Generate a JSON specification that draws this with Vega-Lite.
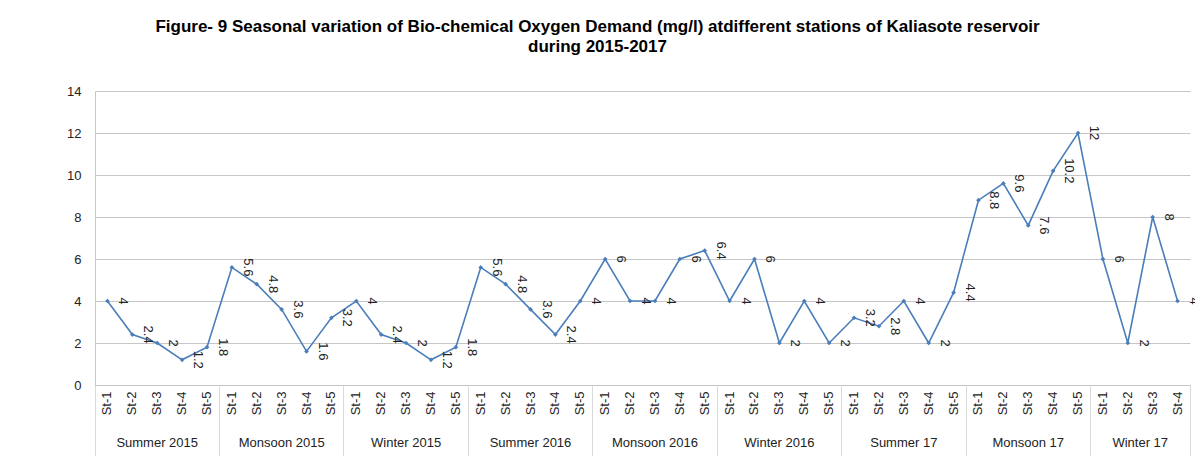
{
  "$schema": "https://vega.github.io/schema/vega-lite/v6.json",
  "width": 1095,
  "height": 294,
  "autosize": "none",
  "padding": {"left": 95, "top": 91, "right": 5, "bottom": 71},
  "background": "white",
  "title": {
    "text": ["Figure- 9 Seasonal variation of Bio-chemical Oxygen Demand  (mg/l)  atdifferent stations of Kaliasote reservoir", "during 2015-2017"],
    "font": "Liberation Sans",
    "fontSize": 17,
    "fontWeight": "bold",
    "color": "#000000",
    "anchor": "middle",
    "frame": "group",
    "dx": -45,
    "offset": 29,
    "lineHeight": 20
  },
  "config": {
    "view": {"stroke": null},
    "font": "Liberation Sans"
  },
  "data": {
    "values": [
      {"season": "Summer 2015", "station": "St-1", "key": "Summer 2015|St-1", "bod": 4},
      {"season": "Summer 2015", "station": "St-2", "key": "Summer 2015|St-2", "bod": 2.4},
      {"season": "Summer 2015", "station": "St-3", "key": "Summer 2015|St-3", "bod": 2},
      {"season": "Summer 2015", "station": "St-4", "key": "Summer 2015|St-4", "bod": 1.2},
      {"season": "Summer 2015", "station": "St-5", "key": "Summer 2015|St-5", "bod": 1.8},
      {"season": "Monsoon 2015", "station": "St-1", "key": "Monsoon 2015|St-1", "bod": 5.6},
      {"season": "Monsoon 2015", "station": "St-2", "key": "Monsoon 2015|St-2", "bod": 4.8},
      {"season": "Monsoon 2015", "station": "St-3", "key": "Monsoon 2015|St-3", "bod": 3.6},
      {"season": "Monsoon 2015", "station": "St-4", "key": "Monsoon 2015|St-4", "bod": 1.6},
      {"season": "Monsoon 2015", "station": "St-5", "key": "Monsoon 2015|St-5", "bod": 3.2},
      {"season": "Winter 2015", "station": "St-1", "key": "Winter 2015|St-1", "bod": 4},
      {"season": "Winter 2015", "station": "St-2", "key": "Winter 2015|St-2", "bod": 2.4},
      {"season": "Winter 2015", "station": "St-3", "key": "Winter 2015|St-3", "bod": 2},
      {"season": "Winter 2015", "station": "St-4", "key": "Winter 2015|St-4", "bod": 1.2},
      {"season": "Winter 2015", "station": "St-5", "key": "Winter 2015|St-5", "bod": 1.8},
      {"season": "Summer 2016", "station": "St-1", "key": "Summer 2016|St-1", "bod": 5.6},
      {"season": "Summer 2016", "station": "St-2", "key": "Summer 2016|St-2", "bod": 4.8},
      {"season": "Summer 2016", "station": "St-3", "key": "Summer 2016|St-3", "bod": 3.6},
      {"season": "Summer 2016", "station": "St-4", "key": "Summer 2016|St-4", "bod": 2.4},
      {"season": "Summer 2016", "station": "St-5", "key": "Summer 2016|St-5", "bod": 4},
      {"season": "Monsoon 2016", "station": "St-1", "key": "Monsoon 2016|St-1", "bod": 6},
      {"season": "Monsoon 2016", "station": "St-2", "key": "Monsoon 2016|St-2", "bod": 4},
      {"season": "Monsoon 2016", "station": "St-3", "key": "Monsoon 2016|St-3", "bod": 4},
      {"season": "Monsoon 2016", "station": "St-4", "key": "Monsoon 2016|St-4", "bod": 6},
      {"season": "Monsoon 2016", "station": "St-5", "key": "Monsoon 2016|St-5", "bod": 6.4},
      {"season": "Winter 2016", "station": "St-1", "key": "Winter 2016|St-1", "bod": 4},
      {"season": "Winter 2016", "station": "St-2", "key": "Winter 2016|St-2", "bod": 6},
      {"season": "Winter 2016", "station": "St-3", "key": "Winter 2016|St-3", "bod": 2},
      {"season": "Winter 2016", "station": "St-4", "key": "Winter 2016|St-4", "bod": 4},
      {"season": "Winter 2016", "station": "St-5", "key": "Winter 2016|St-5", "bod": 2},
      {"season": "Summer 17", "station": "St-1", "key": "Summer 17|St-1", "bod": 3.2},
      {"season": "Summer 17", "station": "St-2", "key": "Summer 17|St-2", "bod": 2.8},
      {"season": "Summer 17", "station": "St-3", "key": "Summer 17|St-3", "bod": 4},
      {"season": "Summer 17", "station": "St-4", "key": "Summer 17|St-4", "bod": 2},
      {"season": "Summer 17", "station": "St-5", "key": "Summer 17|St-5", "bod": 4.4},
      {"season": "Monsoon 17", "station": "St-1", "key": "Monsoon 17|St-1", "bod": 8.8},
      {"season": "Monsoon 17", "station": "St-2", "key": "Monsoon 17|St-2", "bod": 9.6},
      {"season": "Monsoon 17", "station": "St-3", "key": "Monsoon 17|St-3", "bod": 7.6},
      {"season": "Monsoon 17", "station": "St-4", "key": "Monsoon 17|St-4", "bod": 10.2},
      {"season": "Monsoon 17", "station": "St-5", "key": "Monsoon 17|St-5", "bod": 12},
      {"season": "Winter 17", "station": "St-1", "key": "Winter 17|St-1", "bod": 6},
      {"season": "Winter 17", "station": "St-2", "key": "Winter 17|St-2", "bod": 2},
      {"season": "Winter 17", "station": "St-3", "key": "Winter 17|St-3", "bod": 8},
      {"season": "Winter 17", "station": "St-4", "key": "Winter 17|St-4", "bod": 4}
    ]
  },
  "encoding": {
    "x": {
      "field": "key",
      "type": "ordinal",
      "sort": null,
      "scale": {"type": "band", "paddingInner": 0, "paddingOuter": 0}
    },
    "y": {
      "field": "bod",
      "type": "quantitative",
      "scale": {"domain": [0, 14], "nice": false},
      "axis": {
        "title": null,
        "values": [0, 2, 4, 6, 8, 10, 12, 14],
        "grid": true,
        "gridColor": "#c6c6c6",
        "gridWidth": 1,
        "ticks": false,
        "domainColor": "#c6c6c6",
        "labelFont": "Liberation Sans",
        "labelFontSize": 13,
        "labelColor": "#222222",
        "labelPadding": 14
      }
    }
  },
  "resolve": {"axis": {"x": "independent"}},
  "layer": [
    {
      "mark": {"type": "line", "color": "#4a7ebb", "strokeWidth": 1.6},
      "encoding": {
        "x": {
          "field": "key",
          "type": "ordinal",
          "sort": null,
          "axis": {
            "title": null,
            "orient": "bottom",
            "labelExpr": "split(datum.value, '|')[1]",
            "labelAngle": -90,
            "labelOverlap": false,
            "ticks": true,
            "bandPosition": 1,
            "tickSize": 71,
            "tickColor": "#d9d9d9",
            "tickOpacity": {"condition": {"test": "datum.value == 'Winter 17|St-4'", "value": 1}, "value": 0},
            "domainColor": "#c6c6c6",
            "labelFont": "Liberation Sans",
            "labelFontSize": 13,
            "labelColor": "#222222",
            "labelPadding": -65
          }
        }
      }
    },
    {
      "mark": {"type": "point", "shape": "diamond", "filled": true, "size": 22, "color": "#4a7ebb", "opacity": 1},
      "encoding": {
        "x": {
          "field": "key",
          "type": "ordinal",
          "sort": null,
          "axis": {
            "title": null,
            "orient": "bottom",
            "domain": false,
            "bandPosition": 0,
            "labelExpr": "split(datum.value, '|')[1] == 'St-3' ? split(datum.value, '|')[0] : ''",
            "labelAngle": 0,
            "labelAlign": "center",
            "labelBaseline": "top",
            "labelOverlap": false,
            "labelOffset": {"condition": {"test": "indexof(datum.value, 'Winter 17') >= 0", "value": -12.45}, "value": 0},
            "tickSize": 71,
            "tickColor": "#d9d9d9",
            "tickOpacity": {"condition": {"test": "indexof(datum.value, 'St-1') >= 0", "value": 1}, "value": 0},
            "labelFont": "Liberation Sans",
            "labelFontSize": 13,
            "labelColor": "#222222",
            "labelPadding": -20
          }
        }
      }
    },
    {
      "mark": {"type": "text", "angle": 90, "align": "center", "baseline": "middle", "dy": -16, "fontSize": 13, "font": "Liberation Sans", "color": "#222222"},
      "encoding": {
        "x": {"field": "key", "type": "ordinal", "sort": null, "axis": null},
        "text": {"field": "bod", "type": "quantitative"}
      }
    }
  ]
}
